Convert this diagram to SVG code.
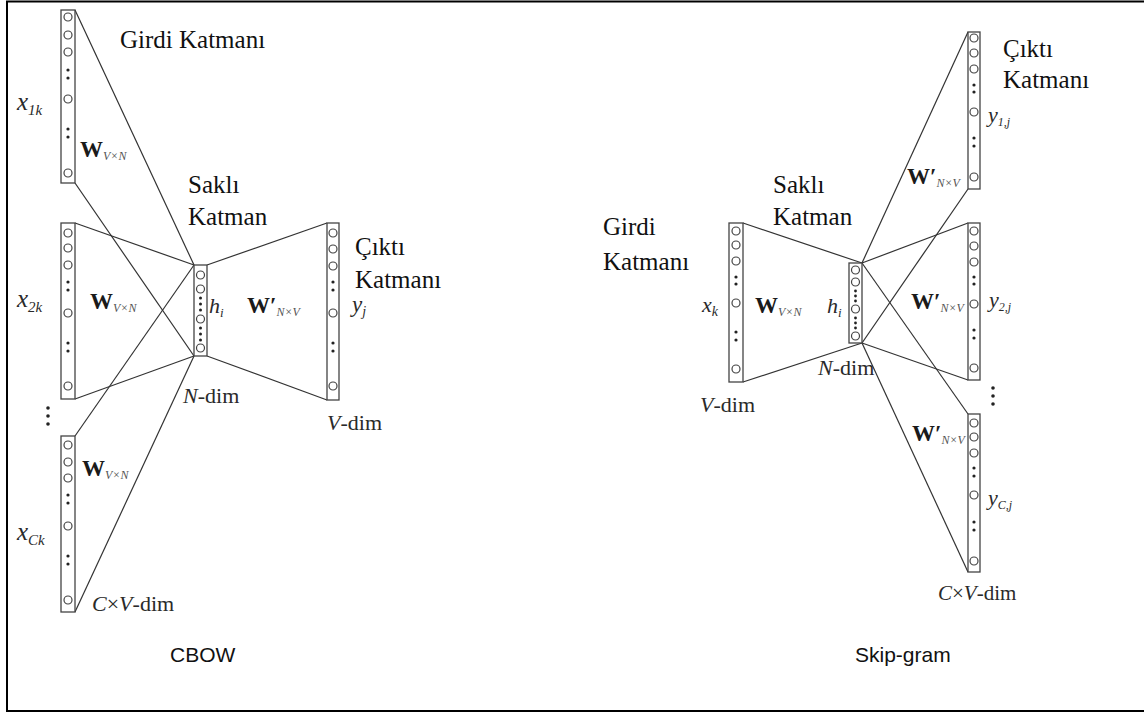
<svg xmlns="http://www.w3.org/2000/svg" width="1144" height="713" viewBox="0 0 1144 713">
<style>
.frame{fill:none;stroke:#000;stroke-width:2}
.col{fill:#fff;stroke:#444;stroke-width:1.3}
.nd{fill:#fff;stroke:#444;stroke-width:1.2}
.dt{fill:#222}
.cn{stroke:#333;stroke-width:1.2;fill:none}
.lbl{font-family:"Liberation Serif","Times New Roman",serif;font-size:25px;fill:#111}
.m{font-family:"Liberation Serif","Times New Roman",serif;fill:#2a2a2a}
.it{font-style:italic}
.wb{font-weight:bold;font-size:23px;fill:#1a1a1a}
.sub{font-style:italic;font-size:12px;fill:#555}
.cap{font-family:"Liberation Sans",Arial,sans-serif;font-size:21px;fill:#111}
</style>
<rect width="1144" height="713" fill="#fff"/>
<path class="frame" d="M1144,1.5 H7 V711 H1144"/>

<g id="connectors">
<line class="cn" x1="75" y1="10" x2="194" y2="265"/>
<line class="cn" x1="75" y1="183" x2="194" y2="356"/>
<line class="cn" x1="75" y1="223" x2="194" y2="265"/>
<line class="cn" x1="75" y1="399" x2="194" y2="356"/>
<line class="cn" x1="75" y1="436" x2="194" y2="265"/>
<line class="cn" x1="75" y1="612" x2="194" y2="356"/>
<line class="cn" x1="207" y1="265" x2="327" y2="223"/>
<line class="cn" x1="207" y1="356" x2="327" y2="400"/>
<line class="cn" x1="743" y1="223" x2="862" y2="263"/>
<line class="cn" x1="743" y1="382" x2="862" y2="343"/>
<line class="cn" x1="862" y1="263" x2="968" y2="32"/>
<line class="cn" x1="862" y1="343" x2="968" y2="189"/>
<line class="cn" x1="862" y1="263" x2="968" y2="223"/>
<line class="cn" x1="862" y1="343" x2="968" y2="380"/>
<line class="cn" x1="862" y1="263" x2="968" y2="414"/>
<line class="cn" x1="862" y1="343" x2="968" y2="572"/>
</g>

<!-- CBOW -->
<g id="cbow-input-1">
<rect class="col" x="61" y="10" width="14" height="173"/>
<circle class="nd" cx="68" cy="17" r="4"/><circle class="nd" cx="68" cy="35" r="4"/><circle class="nd" cx="68" cy="52" r="4"/>
<circle class="dt" cx="68" cy="70" r="1.6"/><circle class="dt" cx="68" cy="78" r="1.6"/>
<circle class="nd" cx="68" cy="99" r="4"/>
<circle class="dt" cx="68" cy="129" r="1.6"/><circle class="dt" cx="68" cy="137" r="1.6"/>
<circle class="nd" cx="68" cy="173" r="4"/>
<text class="m it" x="17" y="110" font-size="25">x<tspan font-size="15" dy="5">1k</tspan></text>
<text class="m" x="80" y="157"><tspan class="wb">W</tspan><tspan class="sub" dy="3">V×N</tspan></text>
</g>
<g id="cbow-input-2">
<rect class="col" x="61" y="223" width="14" height="176"/>
<circle class="nd" cx="68" cy="233" r="4"/><circle class="nd" cx="68" cy="248" r="4"/><circle class="nd" cx="68" cy="265" r="4"/>
<circle class="dt" cx="68" cy="282" r="1.6"/><circle class="dt" cx="68" cy="290" r="1.6"/>
<circle class="nd" cx="68" cy="313" r="4"/>
<circle class="dt" cx="68" cy="343" r="1.6"/><circle class="dt" cx="68" cy="351" r="1.6"/>
<circle class="nd" cx="68" cy="386" r="4"/>
<text class="m it" x="17" y="307" font-size="25">x<tspan font-size="15" dy="5">2k</tspan></text>
<text class="m" x="90" y="309"><tspan class="wb">W</tspan><tspan class="sub" dy="3">V×N</tspan></text>
</g>
<g id="cbow-ellipsis">
<circle class="dt" cx="48" cy="408" r="1.8"/><circle class="dt" cx="48" cy="416" r="1.8"/><circle class="dt" cx="48" cy="424" r="1.8"/>
</g>
<g id="cbow-input-C">
<rect class="col" x="61" y="436" width="14" height="176"/>
<circle class="nd" cx="68" cy="445" r="4"/><circle class="nd" cx="68" cy="462" r="4"/><circle class="nd" cx="68" cy="478" r="4"/>
<circle class="dt" cx="68" cy="495" r="1.6"/><circle class="dt" cx="68" cy="503" r="1.6"/>
<circle class="nd" cx="68" cy="526" r="4"/>
<circle class="dt" cx="68" cy="556" r="1.6"/><circle class="dt" cx="68" cy="564" r="1.6"/>
<circle class="nd" cx="68" cy="600" r="4"/>
<text class="m it" x="17" y="540" font-size="25">x<tspan font-size="15" dy="5">Ck</tspan></text>
<text class="m" x="82" y="476"><tspan class="wb">W</tspan><tspan class="sub" dy="3">V×N</tspan></text>
<text class="m" x="92" y="611" font-size="22"><tspan class="it">C</tspan>×<tspan class="it">V</tspan>-dim</text>
<text class="lbl" x="120" y="48">Girdi Katmanı</text>
</g>
<g id="cbow-hidden">
<rect class="col" x="194" y="265" width="13" height="91"/>
<circle class="nd" cx="200.5" cy="275" r="4"/><circle class="nd" cx="200.5" cy="289" r="4"/>
<circle class="dt" cx="200.5" cy="298" r="1.5"/><circle class="dt" cx="200.5" cy="304" r="1.5"/><circle class="dt" cx="200.5" cy="310" r="1.5"/>
<circle class="nd" cx="200.5" cy="319" r="4"/>
<circle class="dt" cx="200.5" cy="328" r="1.5"/><circle class="dt" cx="200.5" cy="334" r="1.5"/><circle class="dt" cx="200.5" cy="340" r="1.5"/>
<circle class="nd" cx="200.5" cy="348" r="4"/>
<text class="m it" x="209" y="313" font-size="22">h<tspan font-size="13" dy="4">i</tspan></text>
<text class="m" x="183" y="403" font-size="22"><tspan class="it">N</tspan>-dim</text>
<text class="lbl" x="188" y="193">Saklı</text>
<text class="lbl" x="188" y="225">Katman</text>
</g>
<g id="cbow-output">
<rect class="col" x="327" y="223" width="12" height="177"/>
<circle class="nd" cx="333" cy="233" r="4"/><circle class="nd" cx="333" cy="249" r="4"/><circle class="nd" cx="333" cy="266" r="4"/>
<circle class="dt" cx="333" cy="282" r="1.6"/><circle class="dt" cx="333" cy="290" r="1.6"/>
<circle class="nd" cx="333" cy="313" r="4"/>
<circle class="dt" cx="333" cy="343" r="1.6"/><circle class="dt" cx="333" cy="351" r="1.6"/>
<circle class="nd" cx="333" cy="386" r="4"/>
<text class="m" x="247" y="313"><tspan class="wb">W′</tspan><tspan class="sub" dy="3">N×V</tspan></text>
<text class="m it" x="352" y="312" font-size="23">y<tspan font-size="14" dy="4">j</tspan></text>
<text class="m" x="327" y="430" font-size="22"><tspan class="it">V</tspan>-dim</text>
<text class="lbl" x="355" y="255">Çıktı</text>
<text class="lbl" x="355" y="288">Katmanı</text>
</g>
<text class="cap" x="170" y="662">CBOW</text>

<!-- Skip-gram -->
<g id="sg-input">
<rect class="col" x="729" y="223" width="14" height="159"/>
<circle class="nd" cx="736" cy="231" r="4"/><circle class="nd" cx="736" cy="245" r="4"/><circle class="nd" cx="736" cy="261" r="4"/>
<circle class="dt" cx="736" cy="277" r="1.6"/><circle class="dt" cx="736" cy="284" r="1.6"/>
<circle class="nd" cx="736" cy="303" r="4"/>
<circle class="dt" cx="736" cy="332" r="1.6"/><circle class="dt" cx="736" cy="340" r="1.6"/>
<circle class="nd" cx="736" cy="369" r="4"/>
<text class="m it" x="702" y="312" font-size="22">x<tspan font-size="14" dy="4">k</tspan></text>
<text class="m" x="755" y="313"><tspan class="wb">W</tspan><tspan class="sub" dy="3">V×N</tspan></text>
<text class="m" x="700" y="412" font-size="22"><tspan class="it">V</tspan>-dim</text>
<text class="lbl" x="603" y="235">Girdi</text>
<text class="lbl" x="603" y="270">Katmanı</text>
</g>
<g id="sg-hidden">
<rect class="col" x="849" y="263" width="13" height="80"/>
<circle class="nd" cx="855.5" cy="270" r="4"/><circle class="nd" cx="855.5" cy="282" r="4"/>
<circle class="dt" cx="855.5" cy="291" r="1.4"/><circle class="dt" cx="855.5" cy="296" r="1.4"/><circle class="dt" cx="855.5" cy="301" r="1.4"/>
<circle class="nd" cx="855.5" cy="309" r="4"/>
<circle class="dt" cx="855.5" cy="318" r="1.4"/><circle class="dt" cx="855.5" cy="323" r="1.4"/><circle class="dt" cx="855.5" cy="328" r="1.4"/>
<circle class="nd" cx="855.5" cy="336" r="4"/>
<text class="m it" x="827" y="313" font-size="22">h<tspan font-size="13" dy="4">i</tspan></text>
<text class="m" x="818" y="375" font-size="22"><tspan class="it">N</tspan>-dim</text>
<text class="lbl" x="773" y="193">Saklı</text>
<text class="lbl" x="773" y="225">Katman</text>
</g>
<g id="sg-output-1">
<rect class="col" x="968" y="32" width="12" height="157"/>
<circle class="nd" cx="974" cy="38" r="4"/><circle class="nd" cx="974" cy="53" r="4"/><circle class="nd" cx="974" cy="69" r="4"/>
<circle class="dt" cx="974" cy="85" r="1.6"/><circle class="dt" cx="974" cy="92" r="1.6"/>
<circle class="nd" cx="974" cy="112" r="4"/>
<circle class="dt" cx="974" cy="138" r="1.6"/><circle class="dt" cx="974" cy="146" r="1.6"/>
<circle class="nd" cx="974" cy="177" r="4"/>
<text class="m it" x="988" y="122" font-size="22">y<tspan font-size="12" dy="4">1,j</tspan></text>
<text class="m" x="907" y="184"><tspan class="wb">W′</tspan><tspan class="sub" dy="3">N×V</tspan></text>
<text class="lbl" x="1003" y="57">Çıktı</text>
<text class="lbl" x="1003" y="88">Katmanı</text>
</g>
<g id="sg-output-2">
<rect class="col" x="968" y="223" width="12" height="157"/>
<circle class="nd" cx="974" cy="231" r="4"/><circle class="nd" cx="974" cy="246" r="4"/><circle class="nd" cx="974" cy="262" r="4"/>
<circle class="dt" cx="974" cy="277" r="1.6"/><circle class="dt" cx="974" cy="284" r="1.6"/>
<circle class="nd" cx="974" cy="304" r="4"/>
<circle class="dt" cx="974" cy="330" r="1.6"/><circle class="dt" cx="974" cy="338" r="1.6"/>
<circle class="nd" cx="974" cy="368" r="4"/>
<text class="m it" x="989" y="307" font-size="22">y<tspan font-size="12" dy="4">2,j</tspan></text>
<text class="m" x="911" y="309"><tspan class="wb">W′</tspan><tspan class="sub" dy="3">N×V</tspan></text>
</g>
<g id="sg-ellipsis">
<circle class="dt" cx="993" cy="388" r="1.8"/><circle class="dt" cx="993" cy="396" r="1.8"/><circle class="dt" cx="993" cy="404" r="1.8"/>
</g>
<g id="sg-output-C">
<rect class="col" x="968" y="414" width="12" height="158"/>
<circle class="nd" cx="974" cy="423" r="4"/><circle class="nd" cx="974" cy="437" r="4"/><circle class="nd" cx="974" cy="453" r="4"/>
<circle class="dt" cx="974" cy="468" r="1.6"/><circle class="dt" cx="974" cy="476" r="1.6"/>
<circle class="nd" cx="974" cy="495" r="4"/>
<circle class="dt" cx="974" cy="522" r="1.6"/><circle class="dt" cx="974" cy="530" r="1.6"/>
<circle class="nd" cx="974" cy="561" r="4"/>
<text class="m it" x="988" y="505" font-size="22">y<tspan font-size="12" dy="4">C,j</tspan></text>
<text class="m" x="912" y="441"><tspan class="wb">W′</tspan><tspan class="sub" dy="3">N×V</tspan></text>
<text class="m" x="938" y="600" font-size="21"><tspan class="it">C</tspan>×<tspan class="it">V</tspan>-dim</text>
</g>
<text class="cap" x="855" y="662">Skip-gram</text>
</svg>
